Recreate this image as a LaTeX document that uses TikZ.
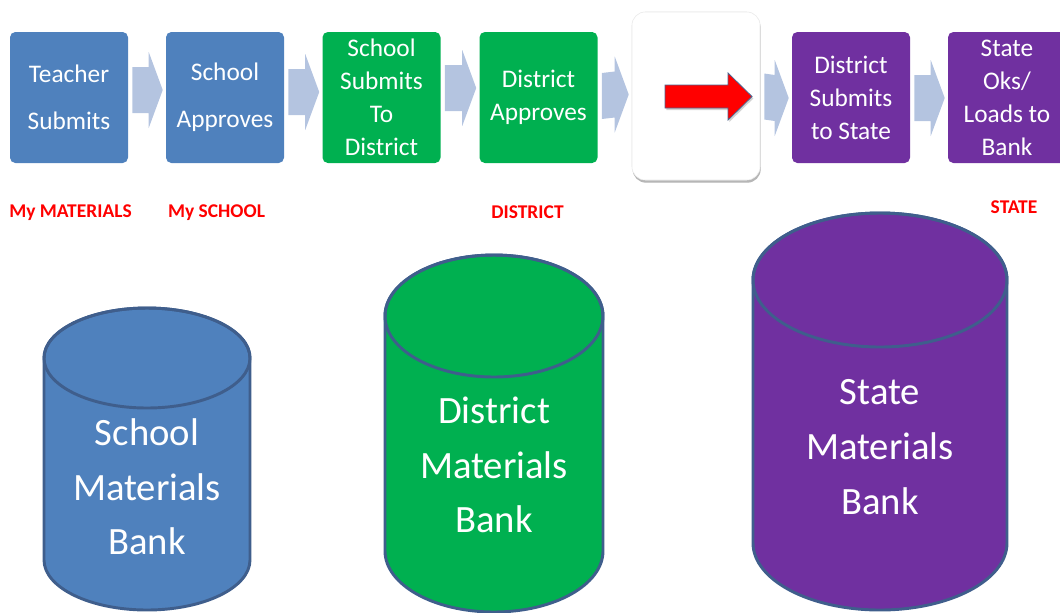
\documentclass[tikz,border=0pt]{standalone}
\usepackage{fontspec}
\setmainfont{Carlito}
\usepackage{xcolor}
\definecolor{stageBlue}{HTML}{4F81BD}
\definecolor{stageGreen}{HTML}{00B050}
\definecolor{stagePurple}{HTML}{7030A0}
\definecolor{chevronFill}{HTML}{B4C4E0}
\definecolor{bankEdge}{HTML}{3F5E8C}
\definecolor{labelRed}{HTML}{FF0000}
\definecolor{arrowEdge}{HTML}{4A6590}
\usetikzlibrary{calc,shadows}

\tikzset{
  stage/.style={rectangle, rounded corners=4pt, minimum width=88.5pt,
    minimum height=98.25pt, inner sep=0pt, text=white, align=center,
    font=\fontsize{19}{24.75}\selectfont},
  loose/.style={font=\fontsize{19}{35.25}\selectfont},
  levelLabel/.style={text=labelRed, font=\fontsize{14.6}{16}\selectfont\bfseries, inner sep=0pt},
  bankText/.style={text=white, align=center, font=\fontsize{29}{41}\selectfont, inner sep=0pt},
  hub/.style={rectangle, rounded corners=10pt, minimum width=96pt, minimum height=126pt,
    fill=white, draw=black!8, line width=0.4pt,
    drop shadow={shadow xshift=0.5pt, shadow yshift=-2pt, opacity=0.35}}
}

% chevron between two stages: #1 from, #2 to, #3 shift of its centre line
\newcommand\flowarrow[3]{%
  \fill[chevronFill] ($(#1.east)+(4,#3-23)$) -- ($(#2.west)+(-17,#3-23)$)
    -- ($(#2.west)+(-17,#3-38)$) -- ($(#2.west)+(-3,#3)$)
    -- ($(#2.west)+(-17,#3+38)$) -- ($(#2.west)+(-17,#3+23)$)
    -- ($(#1.east)+(4,#3+23)$) -- cycle;
}

% bank cylinder: #1 colour, #2 centre x, #3 top ellipse y, #4 bottom ellipse y, #5 x radius, #6 y radius
\newcommand\materialsbank[6]{%
  \filldraw[fill=#1, draw=bankEdge, line width=2.2pt]
    (#2-#5,#3) -- (#2-#5,#4) arc[start angle=180, end angle=0, x radius=#5, y radius=#6]
    -- (#2+#5,#3) arc[start angle=0, end angle=-180, x radius=#5, y radius=#6] -- cycle;
  \draw[bankEdge, line width=2.2pt] (#2,#3) ellipse[x radius=#5, y radius=#6];
}

\begin{document}
\begin{tikzpicture}[x=0.75pt, y=-0.75pt]
  \useasboundingbox (0,0) rectangle (1060,612);

  % workflow stages
  \node[stage, loose, fill=stageBlue] (teacher) at (69,97.5) {Teacher\\Submits};
  \node[stage, loose, fill=stageBlue] (school) at (225,97.5) {School\\Approves};
  \node[stage, fill=stageGreen] (toDistrict) at (381.5,97.5) {School\\Submits\\To\\District};
  \node[stage, fill=stageGreen] (district) at (538.5,97.5) {District\\Approves};
  \node[stage, fill=stagePurple] (toState) at (851,97.5) {District\\Submits\\to State};
  \node[stage, fill=stagePurple] (state) at (1007,97.5) {State\\Oks/\\Loads to\\Bank};

  \flowarrow{teacher}{school}{-7.5}
  \flowarrow{school}{toDistrict}{-5.5}
  \flowarrow{toDistrict}{district}{-9.5}
  \node[hub] (hub) at (696,96) {};
  \flowarrow{district}{hub}{-1.5}
  \node[hub] at (hub) {};
  \flowarrow{hub}{toState}{0.5}
  \flowarrow{toState}{state}{0.5}

  % red arrow on the hub
  \filldraw[fill=red, draw=arrowEdge, line width=0.6pt,
    drop shadow={shadow xshift=1pt, shadow yshift=-1.5pt, opacity=0.35}]
    (665,85) -- (728,85) -- (728,73) -- (752,96.5) -- (728,120) -- (728,108) -- (665,108) -- cycle;

  % levels
  \node[levelLabel] (mine) at (70.5,212.5) {My MATERIALS};
  \node[levelLabel] (mySchool) at (216.5,212.5) {My SCHOOL};
  \node[levelLabel] (lvlDistrict) at (527.5,212.5) {DISTRICT};
  \node[levelLabel] (lvlState) at (1014,207.5) {STATE};

  % material banks
  \materialsbank{stageBlue}{147}{358}{560}{103}{50}
  \node[bankText] (schoolBank) at (147,487) {School\\Materials\\Bank};
  \materialsbank{stageGreen}{494}{316}{551}{109}{61}
  \node[bankText] (districtBank) at (494,465) {District\\Materials\\Bank};
  \materialsbank{stagePurple}{880}{280}{543}{127}{67}
  \node[bankText] (stateBank) at (880,447) {State\\Materials\\Bank};
\end{tikzpicture}
\end{document}
